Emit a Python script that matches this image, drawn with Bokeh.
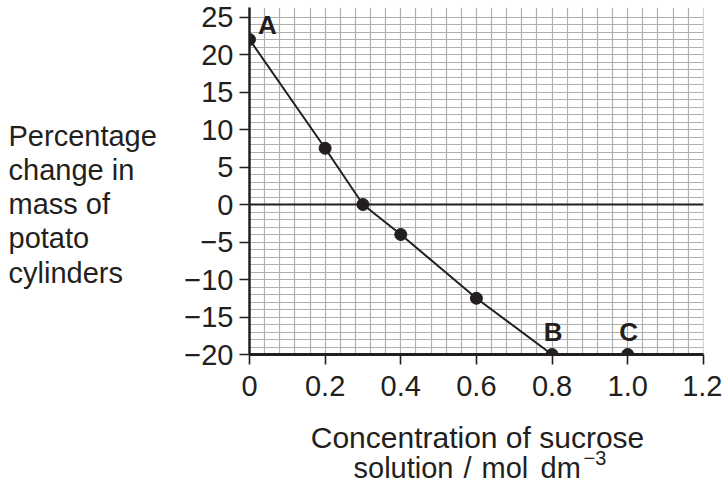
from bokeh.plotting import figure
from bokeh.layouts import row, column
from bokeh.models import Span, FixedTicker, Range1d
from bokeh.core.properties import value
from bokeh.embed import file_html
from bokeh.resources import INLINE

# ---- data ----
concentration = [0.0, 0.2, 0.3, 0.4, 0.6, 0.8, 1.0]
pct_change = [22.0, 7.5, 0.0, -4.0, -12.5, -20.0, -20.0]
line_conc = [0.0, 0.2, 0.3, 0.4, 0.6, 0.8]
line_pct = [22.0, 7.5, 0.0, -4.0, -12.5, -20.0]
a_label = ["A"]
a_conc = [0.0]
a_pct = [22.0]
bc_labels = ["B", "C"]
bc_conc = [0.8, 1.0]
bc_pct = [-20.0, -20.0]
x_ticks = [0.0, 0.2, 0.4, 0.6, 0.8, 1.0, 1.2]
x_tick_labels = ["0", "0.2", "0.4", "0.6", "0.8", "1.0", "1.2"]
y_ticks = [-20, -15, -10, -5, 0, 5, 10, 15, 20, 25]
y_tick_labels = ["\u221220", "\u221215", "\u221210", "\u22125", "0", "5", "10", "15", "20", "25"]
y_label_lines = ["Percentage", "change in", "mass of", "potato", "cylinders"]
x_label_line1 = ["Concentration of sucrose"]
x_label_line2_parts = ["solution", "/", "mol", "dm"]
x_label_sup = ["\u22123"]

FONT = "Liberation Sans"
INK = "#231f20"

# ---- layout sizes (px) ----
LEFT_W = 180
MAIN_W = 542
MAIN_H = 410
BOT_H = 75
TOTAL_W = LEFT_W + MAIN_W
B_TOP, B_BOTTOM = 7, 56

# ---- main chart ----
p = figure(width=MAIN_W, height=MAIN_H, output_backend="svg", toolbar_location=None,
           x_range=Range1d(0, 1.2005), y_range=Range1d(-20, 26.27),
           min_border_left=69, min_border_right=19,
           min_border_top=B_TOP, min_border_bottom=B_BOTTOM)
p.outline_line_color = None

p.xgrid.ticker = FixedTicker(ticks=[round(i * 0.04, 4) for i in range(31)])
p.ygrid.ticker = FixedTicker(ticks=list(range(-20, 26)))
for g in (p.xgrid, p.ygrid):
    g.grid_line_color = "#b0b0b0"
    g.grid_line_width = 1.2

p.xaxis.ticker = FixedTicker(ticks=x_ticks)
p.xaxis.major_label_overrides = {t: l for t, l in zip(x_ticks, x_tick_labels)}
p.yaxis.ticker = FixedTicker(ticks=y_ticks)
p.yaxis.major_label_overrides = {t: l for t, l in zip(y_ticks, y_tick_labels)}
for ax in (p.xaxis, p.yaxis):
    ax.axis_line_color = INK
    ax.major_tick_line_color = INK
    ax.major_tick_line_width = 1.6
    ax.major_tick_out = 10
    ax.major_tick_in = 0
    ax.minor_tick_line_color = None
    ax.major_label_text_font = FONT
    ax.major_label_text_font_size = "29px"
    ax.major_label_text_color = INK
p.xaxis.axis_line_width = 3
p.yaxis.axis_line_width = 2.5
p.xaxis.major_label_standoff = 11
p.yaxis.major_label_standoff = 6

p.add_layout(Span(location=0, dimension="width", line_color=INK, line_width=2))

p.line(line_conc, line_pct, line_color=INK, line_width=2)
p.scatter(concentration, pct_change, size=12, fill_color=INK, line_color=INK)

p.text(a_conc, a_pct, text=a_label, x_offset=18, y_offset=-15,
       text_font=value(FONT), text_font_style="bold", text_font_size="26px",
       text_align="center", text_baseline="middle", text_color=INK)
p.text(bc_conc, bc_pct, text=bc_labels, x_offset=1, y_offset=-23,
       text_font=value(FONT), text_font_style="bold", text_font_size="26px",
       text_align="center", text_baseline="middle", text_color=INK)


def blank(w, h, top=0, bottom=0):
    f = figure(width=w, height=h, output_backend="svg", toolbar_location=None,
               x_range=Range1d(0, w), y_range=Range1d(h - bottom, top),
               x_axis_type=None, y_axis_type=None,
               min_border=0, min_border_left=0, min_border_right=0,
               min_border_top=top, min_border_bottom=bottom)
    f.outline_line_color = None
    f.grid.visible = False
    return f


# ---- y-axis title (left panel, same frame geometry as the chart) ----
left = blank(LEFT_W, MAIN_H, top=B_TOP, bottom=B_BOTTOM)
left.text(x=[8] * 5, y=[135, 169.5, 203.5, 237.5, 272], text=y_label_lines,
          text_font=value(FONT), text_font_size="29px", text_color=INK,
          text_align="left", text_baseline="middle")

# ---- x-axis title (bottom panel) ----
bottom = blank(TOTAL_W, BOT_H)
bottom.text(x=[477], y=[27], text=x_label_line1,
            text_font=value(FONT), text_font_size="30px", text_color=INK,
            text_align="center", text_baseline="middle")
bottom.text(x=[353, 463, 481, 540], y=[57] * 4, text=x_label_line2_parts,
            text_font=value(FONT), text_font_size="29px", text_color=INK,
            text_align="left", text_baseline="middle")
bottom.text(x=[583], y=[47], text=x_label_sup,
            text_font=value(FONT), text_font_size="20px", text_color=INK,
            text_align="left", text_baseline="middle")

layout = column(row(left, p, spacing=0), bottom, spacing=0)

open("out.html", "w").write(file_html(layout, INLINE))
